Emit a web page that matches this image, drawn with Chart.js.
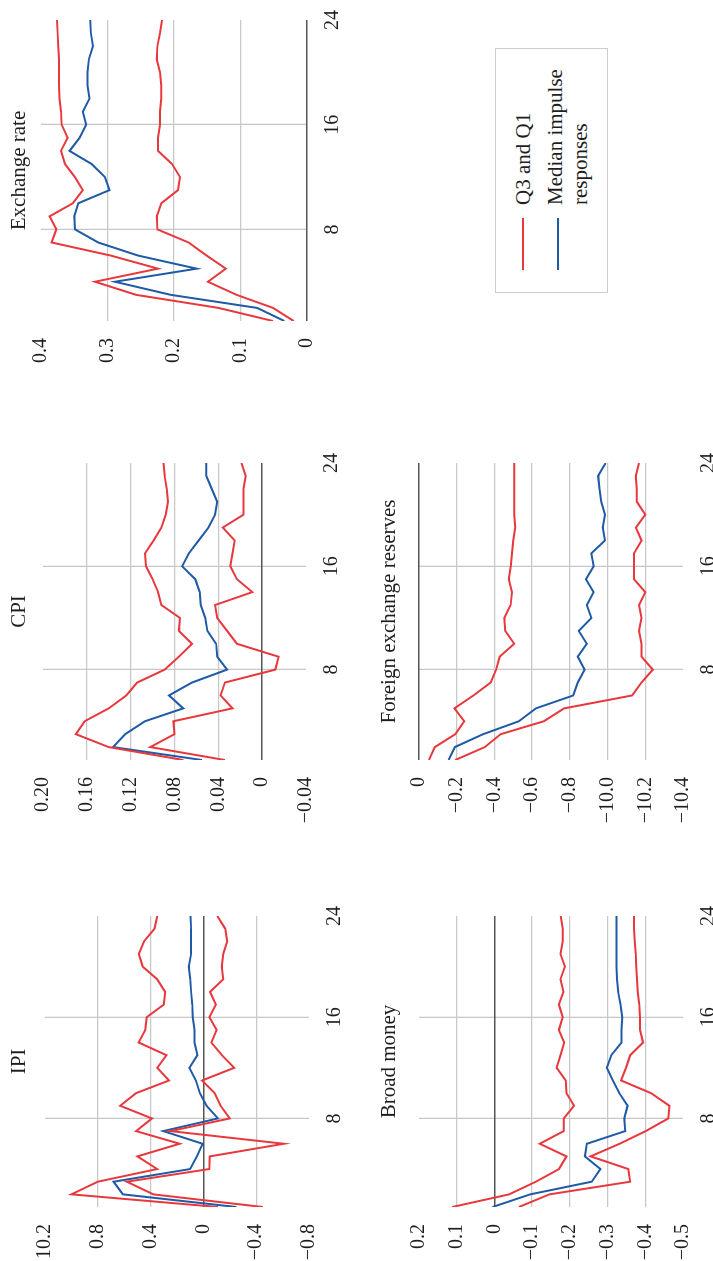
<!DOCTYPE html>
<html>
<head>
<meta charset="utf-8">
<title>Impulse responses</title>
<script src="https://cdn.jsdelivr.net/npm/chart.js@4.4.1/dist/chart.umd.min.js"></script>
<style>
  html, body { margin: 0; padding: 0; background: #fff; overflow: hidden; width: 713px; height: 1261px; }
  /* the figure is laid out landscape and turned a quarter turn to sit on a portrait page */
  #page { position: absolute; left: 0; top: 0; width: 1261px; height: 713px;
          transform-origin: 0 0; transform: translateY(1261px) rotate(-90deg); background: #fff; }
  #page canvas { position: absolute; }
  .lg-box { position: absolute; left: 968px; top: 495px; width: 245px; height: 113px;
            box-sizing: border-box; border: 1.5px solid #cdcdcd; }
  .lg-line { position: absolute; left: 991px; width: 52px; height: 2px; }
  .lg-text { position: absolute; left: 1056px; font-family: 'Liberation Serif', 'Times New Roman', serif;
             font-size: 21px; color: #1e1e1e; white-space: nowrap; }
</style>
</head>
<body>
<div id="page">
  <div class="lg-box"></div>
  <div class="lg-line" style="top:521.7px;background:#e8383d"></div>
  <div class="lg-text" style="top:511px;line-height:24px">Q3 and Q1</div>
  <div class="lg-line" style="top:557.3px;background:#1f5aa6"></div>
  <div class="lg-text" style="top:543.3px;line-height:24.6px">Median impulse<br>responses</div>
</div>
<script>
// Horizon (months after the shock)
const PERIODS = [1, 2, 3, 4, 5, 6, 7, 8, 9, 10, 11, 12, 13, 14, 15, 16, 17, 18, 19, 20, 21, 22, 23, 24];
const X_TICKS = [8, 16, 24];

// IPI
const IPI_Q3  = [-0.11, 1.00, 0.80, 0.35, 0.50, 0.18, 0.51, 0.39, 0.63, 0.51, 0.26, 0.35, 0.28, 0.49, 0.44, 0.43, 0.30, 0.29, 0.35, 0.46, 0.49, 0.45, 0.37, 0.35];
const IPI_MED = [-0.25, 0.61, 0.68, 0.10, 0.05, 0.006, 0.305, -0.11, -0.024, 0.027, 0.057, 0.106, 0.045, 0.068, 0.068, 0.08, 0.085, 0.093, 0.10, 0.11, 0.093, 0.093, 0.093, 0.098];
const IPI_Q1  = [-0.45, 0.38, 0.58, -0.045, -0.048, -0.61, 0.25, -0.20, -0.13, -0.085, 0.01, -0.233, -0.14, -0.06, -0.10, -0.045, -0.095, -0.05, -0.15, -0.14, -0.15, -0.18, -0.165, -0.105];
const IPI_TICKS  = [-0.8, -0.4, 0, 0.4, 0.8, 1.2];
const IPI_LABELS = ['\u22120.8', '\u22120.4', '0', '0.4', '0.8', '10.2'];

// CPI
const CPI_Q3  = [0.072, 0.140, 0.170, 0.162, 0.140, 0.124, 0.114, 0.089, 0.076, 0.064, 0.076, 0.075, 0.092, 0.095, 0.100, 0.106, 0.107, 0.099, 0.092, 0.088, 0.086, 0.087, 0.089, 0.090];
const CPI_MED = [0.055, 0.136, 0.125, 0.107, 0.072, 0.085, 0.064, 0.032, 0.041, 0.042, 0.050, 0.052, 0.056, 0.057, 0.061, 0.073, 0.067, 0.058, 0.049, 0.043, 0.041, 0.046, 0.051, 0.051];
const CPI_Q1  = [0.034, 0.102, 0.080, 0.081, 0.027, 0.038, 0.034, -0.012, -0.015, 0.023, 0.032, 0.041, 0.043, 0.009, 0.023, 0.029, 0.027, 0.025, 0.036, 0.017, 0.017, 0.017, 0.015, 0.019];
const CPI_TICKS  = [-0.04, 0, 0.04, 0.08, 0.12, 0.16, 0.20];
const CPI_LABELS = ['\u22120.04', '0', '0.04', '0.08', '0.12', '0.16', '0.20'];

// Exchange rate
const EXR_Q3  = [0.051, 0.133, 0.257, 0.319, 0.224, 0.295, 0.384, 0.377, 0.387, 0.352, 0.337, 0.349, 0.364, 0.370, 0.360, 0.369, 0.370, 0.372, 0.373, 0.373, 0.373, 0.374, 0.375, 0.376];
const EXR_MED = [0.034, 0.075, 0.205, 0.289, 0.166, 0.254, 0.314, 0.349, 0.350, 0.344, 0.297, 0.304, 0.324, 0.357, 0.342, 0.332, 0.337, 0.327, 0.330, 0.330, 0.328, 0.322, 0.325, 0.326];
const EXR_Q1  = [0.020, 0.051, 0.106, 0.149, 0.122, 0.151, 0.178, 0.225, 0.226, 0.219, 0.194, 0.191, 0.203, 0.224, 0.224, 0.221, 0.221, 0.219, 0.219, 0.221, 0.226, 0.225, 0.221, 0.218];
const EXR_TICKS  = [0, 0.1, 0.2, 0.3, 0.4];
const EXR_LABELS = ['0', '0.1', '0.2', '0.3', '0.4'];

// Broad money
const BM_Q3  = [0.112, -0.039, -0.110, -0.171, -0.191, -0.120, -0.184, -0.184, -0.211, -0.191, -0.189, -0.165, -0.175, -0.185, -0.171, -0.181, -0.171, -0.183, -0.175, -0.187, -0.175, -0.181, -0.181, -0.176];
const BM_MED = [0.005, -0.095, -0.258, -0.281, -0.240, -0.245, -0.347, -0.344, -0.353, -0.331, -0.314, -0.298, -0.310, -0.337, -0.337, -0.339, -0.334, -0.328, -0.325, -0.324, -0.324, -0.324, -0.324, -0.324];
const BM_Q1  = [-0.065, -0.146, -0.360, -0.355, -0.255, -0.332, -0.401, -0.461, -0.464, -0.415, -0.336, -0.349, -0.360, -0.394, -0.386, -0.386, -0.384, -0.380, -0.378, -0.376, -0.375, -0.372, -0.370, -0.370];
const BM_TICKS  = [-0.5, -0.4, -0.3, -0.2, -0.1, 0, 0.1, 0.2];
const BM_LABELS = ['\u22120.5', '\u22120.4', '\u22120.3', '\u22120.2', '\u22120.1', '0', '0.1', '0.2'];

// Foreign exchange reserves
const FX_Q3  = [-0.053, -0.084, -0.192, -0.240, -0.188, -0.289, -0.380, -0.409, -0.428, -0.505, -0.457, -0.452, -0.486, -0.493, -0.476, -0.486, -0.493, -0.500, -0.510, -0.505, -0.505, -0.505, -0.505, -0.505];
const FX_MED = [-0.157, -0.190, -0.340, -0.529, -0.620, -0.818, -0.842, -0.878, -0.842, -0.890, -0.847, -0.914, -0.890, -0.926, -0.885, -0.926, -0.914, -0.986, -0.974, -0.986, -0.967, -0.957, -0.950, -0.990];
const FX_Q1  = [-0.192, -0.349, -0.433, -0.662, -0.770, -1.130, -1.180, -1.240, -1.180, -1.180, -1.167, -1.180, -1.167, -1.200, -1.140, -1.140, -1.140, -1.180, -1.150, -1.200, -1.155, -1.155, -1.150, -1.167];
const FX_TICKS  = [-1.4, -1.2, -1.0, -0.8, -0.6, -0.4, -0.2, 0];
const FX_LABELS = ['\u221210.4', '\u221210.2', '\u221210.0', '\u22120.8', '\u22120.6', '\u22120.4', '\u22120.2', '0'];

const RED = '#e8383d', BLUE = '#1f5aa6';
const GRID = '#c8c8c8', ZERO = '#555555', TEXT = '#1e1e1e';
const FONT = "'Liberation Serif', 'Times New Roman', serif";

const page = document.getElementById('page');

function points(values) {
  return PERIODS.map((p, i) => ({ x: p, y: values[i] }));
}

function line(values, color) {
  return { data: points(values), borderColor: color, backgroundColor: color,
           borderWidth: 2, pointRadius: 0, fill: false, tension: 0 };
}

function panel(o) {
  const YW = 80, XH = 50, PR = 30, TF = 21, P1 = 3;
  const P2 = o.titleGap;                 // space between title and plot area
  const TH = P1 + TF + P2;
  const w = YW + (o.r - o.l) + PR;
  const h = TH + (o.b - o.t) + XH;
  const cv = document.createElement('canvas');
  cv.width = w; cv.height = h;
  cv.style.width = w + 'px'; cv.style.height = h + 'px';
  cv.style.left = (o.l - YW) + 'px';
  cv.style.top = (o.t - TH) + 'px';
  page.appendChild(cv);

  const ymin = o.ticks[0], ymax = o.ticks[o.ticks.length - 1];
  new Chart(cv, {
    type: 'line',
    data: { datasets: [line(o.q3, RED), line(o.q1, RED), line(o.med, BLUE)] },
    options: {
      responsive: false, animation: false, devicePixelRatio: 1,
      layout: { padding: { left: 0, right: PR, top: 0, bottom: 0 } },
      plugins: {
        legend: { display: false }, tooltip: { enabled: false },
        title: { display: true, text: o.title, color: TEXT, fullSize: false,
                 font: { family: FONT, size: TF, weight: 'normal', lineHeight: 1 },
                 padding: { top: P1, bottom: P2 } }
      },
      scales: {
        x: {
          type: 'linear', min: 1, max: 24,
          afterBuildTicks: s => { s.ticks = X_TICKS.map(v => ({ value: v })); },
          afterFit: s => { s.height = XH; },
          border: { display: false },
          grid: { drawTicks: false, lineWidth: 1.3,
                  color: c => (c.tick && c.tick.value === 24) ? 'rgba(0,0,0,0)' : GRID },
          ticks: { color: TEXT, padding: 14, maxRotation: 0, autoSkip: false,
                   font: { family: FONT, size: 20 }, callback: v => String(v) }
        },
        y: {
          type: 'linear', min: ymin, max: ymax,
          afterBuildTicks: s => { s.ticks = o.ticks.map(v => ({ value: v })); },
          afterFit: s => { s.width = YW; },
          border: { display: false },
          grid: { drawTicks: false,
                  lineWidth: c => (c.tick && Math.abs(c.tick.value) < 1e-9) ? 1.6 : 1.3,
                  color: c => {
                    const v = c.tick ? c.tick.value : NaN;
                    if (Math.abs(v) < 1e-9) return ZERO;
                    if (v === ymin || v === ymax) return 'rgba(0,0,0,0)';
                    return GRID;
                  } },
          ticks: { color: TEXT, padding: 17, autoSkip: false,
                   font: { family: FONT, size: 20 },
                   callback: v => {
                     const i = o.ticks.findIndex(t => Math.abs(t - v) < 1e-9);
                     return i >= 0 ? o.labels[i] : '';
                   } }
        }
      }
    }
  });
}

panel({ title: 'IPI', l: 54, r: 345, t: 45, b: 309, titleGap: 15,
        ticks: IPI_TICKS, labels: IPI_LABELS, q3: IPI_Q3, med: IPI_MED, q1: IPI_Q1 });
panel({ title: 'CPI', l: 501, r: 798, t: 43, b: 306, titleGap: 13,
        ticks: CPI_TICKS, labels: CPI_LABELS, q3: CPI_Q3, med: CPI_MED, q1: CPI_Q1 });
panel({ title: 'Exchange rate', l: 940, r: 1241, t: 41, b: 307, titleGap: 11,
        ticks: EXR_TICKS, labels: EXR_LABELS, q3: EXR_Q3, med: EXR_MED, q1: EXR_Q1 });
panel({ title: 'Broad money', l: 54, r: 345, t: 419, b: 683, titleGap: 19,
        ticks: BM_TICKS, labels: BM_LABELS, q3: BM_Q3, med: BM_MED, q1: BM_Q1 });
panel({ title: 'Foreign exchange reserves', l: 501, r: 798, t: 419, b: 683, titleGap: 19,
        ticks: FX_TICKS, labels: FX_LABELS, q3: FX_Q3, med: FX_MED, q1: FX_Q1 });
</script>
</body>
</html>
